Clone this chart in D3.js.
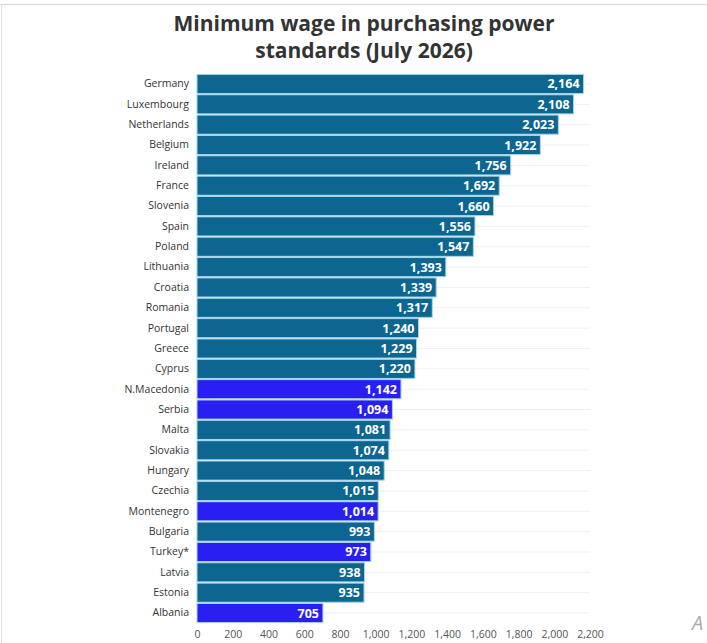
<!DOCTYPE html>
<html>
<head>
<meta charset="utf-8">
<script src="https://cdn.jsdelivr.net/npm/d3@7"></script>
<style>
  body { margin: 0; background: #fff; }
  svg { display: block; font-family: "Open Sans", sans-serif; }
</style>
</head>
<body>
<div id="chart"></div>
<script>
// Données
const countries = ["Germany", "Luxembourg", "Netherlands", "Belgium", "Ireland", "France",
  "Slovenia", "Spain", "Poland", "Lithuania", "Croatia", "Romania", "Portugal", "Greece",
  "Cyprus", "N.Macedonia", "Serbia", "Malta", "Slovakia", "Hungary", "Czechia",
  "Montenegro", "Bulgaria", "Turkey*", "Latvia", "Estonia", "Albania"];
const values = [2164, 2108, 2023, 1922, 1756, 1692, 1660, 1556, 1547, 1393, 1339, 1317,
  1240, 1229, 1220, 1142, 1094, 1081, 1074, 1048, 1015, 1014, 993, 973, 938, 935, 705];
const highlighted = ["N.Macedonia", "Serbia", "Montenegro", "Turkey*", "Albania"];
const xTicks = [0, 200, 400, 600, 800, 1000, 1200, 1400, 1600, 1800, 2000, 2200];
const titleLines = ["Minimum wage in purchasing power", "standards (July 2026)"];

const data = countries.map((c, i) => ({ country: c, value: values[i] }));

const width = 707;
const height = 643;
const margin = { top: 74, right: 117, bottom: 19, left: 196 };

const x = d3.scaleLinear()
    .domain([0, 2200])
    .range([margin.left + 1, width - margin.right]);

const y = d3.scaleBand()
    .domain(countries)
    .range([margin.top, height - margin.bottom - 1])
    .paddingInner(0.06)
    .paddingOuter(0.02);

const svg = d3.select("#chart").append("svg")
    .attr("width", width)
    .attr("height", height)
    .attr("viewBox", [0, 0, width, height]);

// Cadre de la page
svg.append("line")
    .attr("x1", 0).attr("x2", width).attr("y1", 4.5).attr("y2", 4.5)
    .attr("stroke", "#d6d6d6");
svg.append("line")
    .attr("x1", 1.5).attr("x2", 1.5).attr("y1", 4).attr("y2", height)
    .attr("stroke", "#e2e2e8");

// Titre
svg.append("g")
    .selectAll("text")
    .data(titleLines)
    .join("text")
    .attr("x", 364)
    .attr("y", (d, i) => 31 + i * 27)
    .attr("text-anchor", "middle")
    .attr("fill", "#333")
    .attr("font-size", "21px")
    .attr("font-weight", 700)
    .text(d => d);

// Lignes de fond
svg.append("g")
    .selectAll("line")
    .data(data)
    .join("line")
    .attr("x1", d => x(d.value))
    .attr("x2", x(2200))
    .attr("y1", d => y(d.country) + y.bandwidth() / 2)
    .attr("y2", d => y(d.country) + y.bandwidth() / 2)
    .attr("stroke", "#f0f0f0");

// Barres
svg.append("g")
    .selectAll("rect")
    .data(data)
    .join("rect")
    .attr("x", x(0))
    .attr("y", d => y(d.country))
    .attr("width", d => x(d.value) - x(0))
    .attr("height", y.bandwidth())
    .attr("fill", d => highlighted.includes(d.country) ? "#2a1ff2" : "#0d6690")
    .attr("stroke", "#a6d6ec")
    .attr("stroke-width", 1);

// Valeurs
svg.append("g")
    .selectAll("text")
    .data(data)
    .join("text")
    .attr("x", d => x(d.value) - 4)
    .attr("y", d => y(d.country) + y.bandwidth() / 2)
    .attr("dy", "0.36em")
    .attr("text-anchor", "end")
    .attr("fill", "#fff")
    .attr("font-size", "12.5px")
    .attr("font-weight", 700)
    .text(d => d3.format(",")(d.value));

// Axe des pays
const yAxis = svg.append("g")
    .attr("transform", `translate(${margin.left - 4},0)`)
    .call(d3.axisLeft(y).tickSize(0).tickPadding(3));
yAxis.select(".domain").remove();
yAxis.selectAll("text")
    .attr("fill", "#333")
    .attr("font-size", "10.5px")
    .attr("font-family", "'Open Sans', sans-serif");

// Axe des valeurs
const xAxis = svg.append("g")
    .attr("transform", `translate(0,${height - margin.bottom})`)
    .call(d3.axisBottom(x).tickValues(xTicks).tickSize(0).tickPadding(7).tickFormat(d3.format(",")));
xAxis.select(".domain").remove();
xAxis.selectAll("text")
    .attr("fill", "#555")
    .attr("font-size", "10.5px")
    .attr("font-family", "'Open Sans', sans-serif");

// Lettre au bord droit
svg.append("text")
    .attr("x", 692)
    .attr("y", 630)
    .attr("fill", "#aaa")
    .attr("font-size", "20px")
    .attr("font-style", "italic")
    .text("A");
</script>
</body>
</html>
